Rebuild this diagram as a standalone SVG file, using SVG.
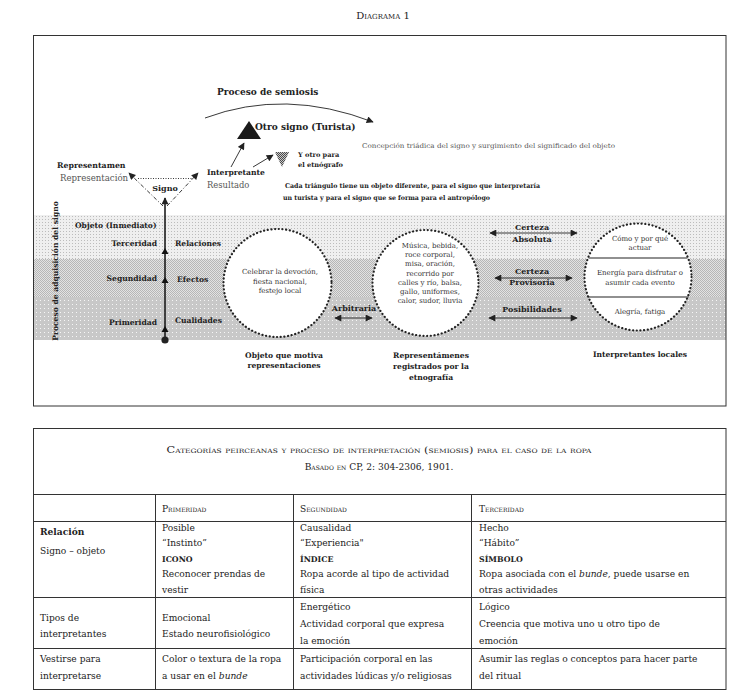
<svg xmlns="http://www.w3.org/2000/svg" width="731" height="696" viewBox="0 0 731 696">
<style>
.s{font-family:"DejaVu Serif","Liberation Serif",serif;fill:#222}
.b{font-weight:bold}
.sc{font-variant:small-caps}
.g{fill:#555}
.lab{font-size:7.6px;font-weight:bold}
.ct{font-size:7px;fill:#333}
.tb{font-size:9.1px;fill:#222}
.ln{stroke:#333;stroke-width:1;fill:none}
.ar{stroke:#222;stroke-width:0.9;fill:none}
.dc{fill:#fff;stroke:#222;stroke-width:2.2;stroke-dasharray:0.1 3.6;stroke-linecap:round}
</style>
<defs>
<pattern id="pDot" width="3" height="3" patternUnits="userSpaceOnUse"><rect width="3" height="3" fill="#efefef"/><rect width="1" height="1" fill="#bcbcbc"/></pattern>
<pattern id="pMid" width="2" height="2" patternUnits="userSpaceOnUse"><rect width="2" height="2" fill="#e2e2e2"/><rect width="1" height="1" fill="#b6b6b6"/><rect x="1" y="1" width="1" height="1" fill="#b6b6b6"/></pattern>
<pattern id="pDark" width="4" height="4" patternUnits="userSpaceOnUse"><rect width="4" height="4" fill="#c8c8c8"/><rect width="1" height="1" fill="#f6f6f6"/></pattern>
<pattern id="pHatch" width="2" height="2" patternUnits="userSpaceOnUse"><rect width="2" height="2" fill="#c8c8c8"/><rect width="1" height="1" fill="#4a4a4a"/><rect x="1" y="1" width="1" height="1" fill="#4a4a4a"/></pattern>
<marker id="ah" viewBox="0 0 10 10" refX="9" refY="5" markerWidth="9" markerHeight="7" markerUnits="userSpaceOnUse" orient="auto-start-reverse"><path d="M0,0 L10,5 L0,10 z" fill="#222"/></marker>
</defs>

<text class="s sc" x="383" y="19" font-size="10" text-anchor="middle">Diagrama 1</text>

<g id="bands">
<rect x="33" y="215" width="693" height="44" fill="url(#pDot)"/>
<rect x="33" y="259" width="693" height="38" fill="url(#pMid)"/>
<rect x="33" y="297" width="693" height="43" fill="url(#pDark)"/>
</g>
<rect id="frame" x="33.5" y="35.5" width="692.5" height="370.5" class="ln"/>

<g id="connectors">
<path d="M205,118 Q285,88 373,122" class="ar" stroke-width="1.1" marker-end="url(#ah)"/>
<line x1="231" y1="167" x2="244" y2="143" class="ar" stroke-width="1.1" marker-end="url(#ah)"/>
<line x1="253" y1="167" x2="273" y2="155" class="ar" stroke-width="1.1" marker-end="url(#ah)"/>
<line x1="163" y1="206" x2="129" y2="173" class="ar" stroke-dasharray="4 2 1 2" marker-end="url(#ah)"/>
<line x1="167" y1="206" x2="198" y2="173" class="ar" stroke-dasharray="4 2 1 2" marker-end="url(#ah)"/>
<line x1="138" y1="178.5" x2="192" y2="178.5" class="ar" stroke-dasharray="1 1.5"/>
<line x1="165" y1="340" x2="165" y2="198" stroke="#111" stroke-width="1.5" marker-end="url(#ah)"/>
<polygon points="165,248 161.5,254 168.5,254" fill="#111"/>
<polygon points="165,277 161.5,283 168.5,283" fill="#111"/>
<polygon points="165,326 161.5,332 168.5,332" fill="#111"/>
<circle cx="165" cy="340" r="3.6" fill="#222"/>
<line x1="335" y1="318" x2="372" y2="318" class="ar" marker-start="url(#ah)" marker-end="url(#ah)"/>
<line x1="490" y1="233" x2="577" y2="233" class="ar" marker-start="url(#ah)" marker-end="url(#ah)"/>
<line x1="495" y1="278" x2="572" y2="278" class="ar" marker-start="url(#ah)" marker-end="url(#ah)"/>
<line x1="489" y1="318" x2="577" y2="318" class="ar" marker-start="url(#ah)" marker-end="url(#ah)"/>
</g>

<g id="semiosis">
<text class="s b" x="217" y="95" font-size="9">Proceso de semiosis</text>
</g>
<g id="otro-signo">
<polygon points="249,121 237,139 261,139" fill="#1a1a1a"/>
<text class="s b" x="255" y="130" font-size="9">Otro signo (Turista)</text>
</g>
<g id="etnografo">
<polygon points="275,152 289,152 282,167" fill="url(#pHatch)"/>
<text class="s b" x="298" y="157" font-size="6.6">Y otro para</text>
<text class="s b" x="298" y="167" font-size="6.6">el etnógrafo</text>
</g>
<g id="concepcion">
<text class="s g" x="362" y="148" font-size="6.6" textLength="253" lengthAdjust="spacingAndGlyphs">Concepción triádica del signo y surgimiento del significado del objeto</text>
</g>
<g id="nota">
<text class="s b" x="285" y="188" font-size="6.6" textLength="255" lengthAdjust="spacingAndGlyphs">Cada triángulo tiene un objeto diferente, para el signo que interpretaría</text>
<text class="s b" x="283" y="200" font-size="6.6" textLength="207" lengthAdjust="spacingAndGlyphs">un turista y para el signo que se forma para el antropólogo</text>
</g>
<g id="representamen">
<text class="s b" x="57" y="168" font-size="7.8">Representamen</text>
<text class="s g" x="60" y="181" font-size="8.6">Representación</text>
</g>
<g id="interpretante">
<text class="s b" x="207" y="175" font-size="7.6">Interpretante</text>
<text class="s g" x="207" y="188" font-size="8.4">Resultado</text>
</g>
<g id="signo">
<text class="s b" x="165" y="191" font-size="8" text-anchor="middle">Signo</text>
</g>

<g id="eje">
<text class="s b" transform="translate(58,271) rotate(-90)" font-size="7.6" text-anchor="middle">Proceso de adquisición del signo</text>
<text class="s lab" x="75" y="228">Objeto (Inmediato)</text>
<text class="s lab" x="157" y="246" text-anchor="end">Terceridad</text>
<text class="s lab" x="175" y="246">Relaciones</text>
<text class="s lab" x="157" y="281" text-anchor="end">Segundidad</text>
<text class="s lab" x="177" y="282">Efectos</text>
<text class="s lab" x="157" y="325" text-anchor="end">Primeridad</text>
<text class="s lab" x="175" y="323">Cualidades</text>
</g>

<g id="objeto">
<circle cx="277.5" cy="283" r="54" class="dc"/>
<text class="s ct" x="280" y="274" text-anchor="middle">Celebrar la devoción,</text>
<text class="s ct" x="280" y="283.5" text-anchor="middle">fiesta nacional,</text>
<text class="s ct" x="280" y="293" text-anchor="middle">festejo local</text>
<text class="s lab" x="284" y="358" text-anchor="middle">Objeto que motiva</text>
<text class="s lab" x="284" y="368" text-anchor="middle">representaciones</text>
</g>

<g id="arbitraria">
<text class="s b" x="354" y="311" font-size="8" text-anchor="middle">Arbitraria</text>
</g>

<g id="representamenes">
<circle cx="425.5" cy="283" r="53" class="dc"/>
<text class="s ct" x="430" y="248" text-anchor="middle">Música, bebida,</text>
<text class="s ct" x="430" y="257.2" text-anchor="middle">roce corporal,</text>
<text class="s ct" x="430" y="266.4" text-anchor="middle">misa, oración,</text>
<text class="s ct" x="430" y="275.6" text-anchor="middle">recorrido por</text>
<text class="s ct" x="430" y="284.8" text-anchor="middle">calles y río, balsa,</text>
<text class="s ct" x="430" y="294" text-anchor="middle">gallo, uniformes,</text>
<text class="s ct" x="430" y="303.2" text-anchor="middle">calor, sudor, lluvia</text>
<text class="s lab" x="431" y="358" text-anchor="middle">Representámenes</text>
<text class="s lab" x="431" y="369" text-anchor="middle">registrados por la</text>
<text class="s lab" x="431" y="380" text-anchor="middle">etnografía</text>
</g>

<g id="certezas">
<text class="s b" x="532" y="230" font-size="8" text-anchor="middle">Certeza</text>
<text class="s b" x="532" y="242" font-size="8" text-anchor="middle">Absoluta</text>
<text class="s b" x="532" y="274" font-size="8" text-anchor="middle">Certeza</text>
<text class="s b" x="532" y="285" font-size="8" text-anchor="middle">Provisoria</text>
<text class="s b" x="532" y="312" font-size="8" text-anchor="middle">Posibilidades</text>
</g>

<g id="interpretantes">
<circle cx="638" cy="277" r="53.5" class="dc"/>
<line x1="588.5" y1="258" x2="687.5" y2="258" stroke="#222" stroke-width="1.1"/>
<line x1="587.5" y1="297" x2="688.5" y2="297" stroke="#222" stroke-width="1.1"/>
<text class="s ct" x="640" y="241" text-anchor="middle">Cómo y por qué</text>
<text class="s ct" x="640" y="250" text-anchor="middle">actuar</text>
<text class="s ct" x="640" y="275" text-anchor="middle">Energía para disfrutar o</text>
<text class="s ct" x="640" y="284.5" text-anchor="middle">asumir cada evento</text>
<text class="s ct" x="640" y="314" text-anchor="middle">Alegría, fatiga</text>
<text class="s lab" x="640" y="357" text-anchor="middle">Interpretantes locales</text>
</g>

<g id="tabla">
<rect x="33.5" y="428.5" width="692.5" height="261" class="ln"/>
<line x1="33.5" y1="494.5" x2="726" y2="494.5" class="ln"/>
<line x1="33.5" y1="521.5" x2="726" y2="521.5" class="ln"/>
<line x1="33.5" y1="597.5" x2="726" y2="597.5" class="ln"/>
<line x1="33.5" y1="648.5" x2="726" y2="648.5" class="ln"/>
<line x1="155.5" y1="494.5" x2="155.5" y2="690" class="ln"/>
<line x1="293.5" y1="494.5" x2="293.5" y2="690" class="ln"/>
<line x1="471.5" y1="494.5" x2="471.5" y2="690" class="ln"/>
<text class="s sc tb" x="379" y="453" text-anchor="middle" textLength="425" lengthAdjust="spacingAndGlyphs">Categorías peirceanas y proceso de interpretación (semiosis) para el caso de la ropa</text>
<text class="s sc tb" x="379" y="470" text-anchor="middle">Basado en CP, 2: 304-2306, 1901.</text>
<text class="s sc tb" x="162" y="512">Primeridad</text>
<text class="s sc tb" x="300" y="512">Segundidad</text>
<text class="s sc tb" x="479" y="512">Terceridad</text>

<text class="s tb b" x="40" y="535">Relación</text>
<text class="s tb" x="40" y="554">Signo – objeto</text>
<text class="s tb" x="162" y="531">Posible</text>
<text class="s tb" x="162" y="546">“Instinto”</text>
<text class="s b" x="162" y="562" font-size="7.8">ICONO</text>
<text class="s tb" x="162" y="577">Reconocer prendas de</text>
<text class="s tb" x="162" y="593">vestir</text>
<text class="s tb" x="300" y="531">Causalidad</text>
<text class="s tb" x="300" y="546">“Experiencia"</text>
<text class="s b" x="300" y="562" font-size="7.8">ÍNDICE</text>
<text class="s tb" x="300" y="577">Ropa acorde al tipo de actividad</text>
<text class="s tb" x="300" y="593">física</text>
<text class="s tb" x="479" y="531">Hecho</text>
<text class="s tb" x="479" y="546">“Hábito”</text>
<text class="s b" x="479" y="562" font-size="7.8">SÍMBOLO</text>
<text class="s tb" x="479" y="577">Ropa asociada con el <tspan font-style="italic">bunde</tspan>, puede usarse en</text>
<text class="s tb" x="479" y="593">otras actividades</text>

<text class="s tb" x="40" y="621">Tipos de</text>
<text class="s tb" x="40" y="637">interpretantes</text>
<text class="s tb" x="162" y="621">Emocional</text>
<text class="s tb" x="162" y="637">Estado neurofisiológico</text>
<text class="s tb" x="300" y="610">Energético</text>
<text class="s tb" x="300" y="627">Actividad corporal que expresa</text>
<text class="s tb" x="300" y="644">la emoción</text>
<text class="s tb" x="479" y="610">Lógico</text>
<text class="s tb" x="479" y="627">Creencia que motiva uno u otro tipo de</text>
<text class="s tb" x="479" y="644">emoción</text>

<text class="s tb" x="40" y="662">Vestirse para</text>
<text class="s tb" x="40" y="679">interpretarse</text>
<text class="s tb" x="162" y="662">Color o textura de la ropa</text>
<text class="s tb" x="162" y="679">a usar en el <tspan font-style="italic">bunde</tspan></text>
<text class="s tb" x="300" y="662">Participación corporal en las</text>
<text class="s tb" x="300" y="679">actividades lúdicas y/o religiosas</text>
<text class="s tb" x="479" y="662">Asumir las reglas o conceptos para hacer parte</text>
<text class="s tb" x="479" y="679">del ritual</text>
</g>
</svg>
